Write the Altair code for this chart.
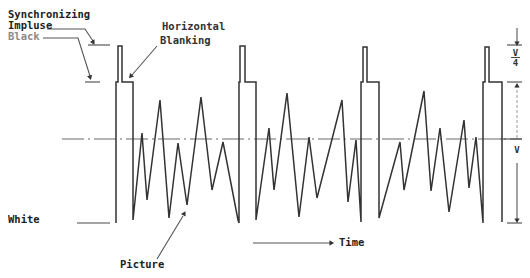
import altair as alt
import pandas as pd

# ---------------- data ----------------
# time positions of the waveform vertices (horizontal units)
wave_time = [116, 116, 118, 118, 122, 122, 133, 133,
             142, 147, 160, 169, 178, 187, 201, 212, 223, 238,
             239, 239, 240, 240, 245, 245, 256, 256,
             269, 274, 287, 299, 309, 317, 342, 348, 356, 361,
             361, 363, 363, 367, 367, 379, 379,
             400, 404, 424, 431, 440, 449, 464, 469, 476, 483,
             483, 485, 485, 489, 489, 502, 502]
# signal amplitude at each vertex (0 = mean axis, + towards sync, - towards white)
wave_level = [-84, 57, 57, 93, 93, 57, 57, -81,
              6, -61, 39, -79, -4, -66, 42, -51, -3, -81,
              -84, 57, 57, 93, 93, 57, 57, -81,
              11, -51, 46, -78, 2, -59, 39, -63, -1, -83,
              57, 57, 92, 92, 57, 57, -79,
              -3, -51, 48, -52, 11, -73, 19, -49, 2, -84,
              57, 57, 92, 92, 57, 57, -83]

# reference levels
level_names = ["sync", "black", "zero", "white"]
level_values = [94, 57, 0, -84]

# text labels
label_text = ["Synchronizing", "Impluse", "Black", "Horizontal", "Blanking",
              "White", "Picture", "Time"]
dim_text = ["V", "4", "V"]

# ---------------- layout / annotation geometry ----------------
X0, X1 = 8, 522          # horizontal domain
Y_TOP, Y_BOT = 131, -131  # vertical domain

xs = alt.Scale(domain=[X0, X1], nice=False, zero=False)
ys = alt.Scale(domain=[Y_BOT, Y_TOP], nice=False, zero=False)

wave_df = pd.DataFrame({"t": wave_time, "v": wave_level, "i": list(range(len(wave_time)))})

# horizontal level ticks (x start, x end, level index)
tick_rows = [
    (88, 110, 0), (85, 100, 1), (77, 110, 3),
    (507, 530, 0), (507, 530, 1), (500, 526, 2), (507, 530, 3),
]
tick_df = pd.DataFrame([{"x": a, "x2": b, "y": level_values[k]} for a, b, k in tick_rows])
frac_df = pd.DataFrame([{"x": 511, "x2": 520, "y": 81.5}])

# leader / arrow polylines
poly = {
    "imp": [(47, 110), (85, 110), (93, 98)],
    "blk": [(43, 101), (78, 101), (90, 63)],
    "hb": [(157, 93), (132, 64)],
    "pic": [(157, -120), (183, -77)],
    "time": [(253, -104), (330, -104)],
    "r1": [(517, 111), (517, 96)],
    "r3": [(517, -24), (517, -81)],
}
poly_rows = []
for key, pts in poly.items():
    for k, (x, y) in enumerate(pts):
        poly_rows.append({"id": key, "k": k, "x": x, "y": y})
poly_df = pd.DataFrame(poly_rows)
faint_df = pd.DataFrame([{"id": "r2", "k": 0, "x": 517, "y": 54},
                         {"id": "r2", "k": 1, "x": 517, "y": 0}])

arrow_df = pd.DataFrame([
    {"x": 93, "y": 97, "a": 150},
    {"x": 90, "y": 62, "a": 163},
    {"x": 131, "y": 63, "a": 221},
    {"x": 184, "y": -75, "a": 29},
    {"x": 331, "y": -104, "a": 90},
    {"x": 517, "y": 96, "a": 180},
    {"x": 517, "y": 53, "a": 0},
    {"x": 517, "y": -81, "a": 180},
])

label_pos = [(8, 124.5), (8, 113.5), (8, 102), (162, 112), (160, 98),
             (8, -81), (120, -126), (339, -104)]
label_col = ["#222222", "#222222", "#8a8a8a", "#333333", "#333333",
             "#222222", "#222222", "#222222"]
label_df = pd.DataFrame([{"x": p[0], "y": p[1], "txt": t, "c": c}
                         for p, t, c in zip(label_pos, label_text, label_col)])
dim_pos = [(515.5, 86), (515.5, 76), (517, -11)]
dim_df = pd.DataFrame([{"x": p[0], "y": p[1], "txt": t} for p, t in zip(dim_pos, dim_text)])

FONT = "DejaVu Sans Mono"


def X(f):
    return alt.X(f, scale=xs, axis=None)


def Y(f):
    return alt.Y(f, scale=ys, axis=None)


zero_axis = alt.Chart(pd.DataFrame({"x": [62], "x2": [525], "y": [0]})).mark_rule(
    color="#6a6a6a", strokeWidth=1.1, strokeDash=[22, 4, 2, 4]
).encode(x=X("x:Q"), x2="x2:Q", y=Y("y:Q"))

wave = alt.Chart(wave_df).mark_line(color="#333333", strokeWidth=1.5, strokeJoin="miter").encode(
    x=X("t:Q"), y=Y("v:Q"), order="i:Q"
)

ticks = alt.Chart(tick_df).mark_rule(color="#4a4a4a", strokeWidth=1.1).encode(
    x=X("x:Q"), x2="x2:Q", y=Y("y:Q")
)
frac = alt.Chart(frac_df).mark_rule(color="#4a4a4a", strokeWidth=1).encode(
    x=X("x:Q"), x2="x2:Q", y=Y("y:Q")
)

leaders = alt.Chart(poly_df).mark_line(color="#555555", strokeWidth=1.1).encode(
    x=X("x:Q"), y=Y("y:Q"), detail="id:N", order="k:Q"
)
faint = alt.Chart(faint_df).mark_line(color="#9a9a9a", strokeWidth=1, strokeDash=[3, 2]).encode(
    x=X("x:Q"), y=Y("y:Q"), detail="id:N", order="k:Q"
)

arrows = alt.Chart(arrow_df).mark_point(shape="triangle", filled=True, color="#333333",
                                        size=28, opacity=1).encode(
    x=X("x:Q"), y=Y("y:Q"), angle=alt.Angle("a:Q", scale=None)
)

labels = alt.Chart(label_df).mark_text(font=FONT, fontWeight="bold", fontSize=10.5,
                                       align="left", baseline="middle").encode(
    x=X("x:Q"), y=Y("y:Q"), text="txt:N", color=alt.Color("c:N", scale=None)
)
dims = alt.Chart(dim_df).mark_text(font=FONT, fontWeight="bold", fontSize=9,
                                   align="center", baseline="middle", color="#333333").encode(
    x=X("x:Q"), y=Y("y:Q"), text="txt:N"
)

chart = alt.layer(zero_axis, ticks, frac, faint, leaders, wave, arrows, labels, dims).properties(
    width=514, height=262, padding=0, autosize=alt.AutoSizeParams(type="none"),
    background="#ffffff"
).configure_view(stroke=None)

chart.save("out.html", embed_options={"renderer": "svg", "actions": False})
